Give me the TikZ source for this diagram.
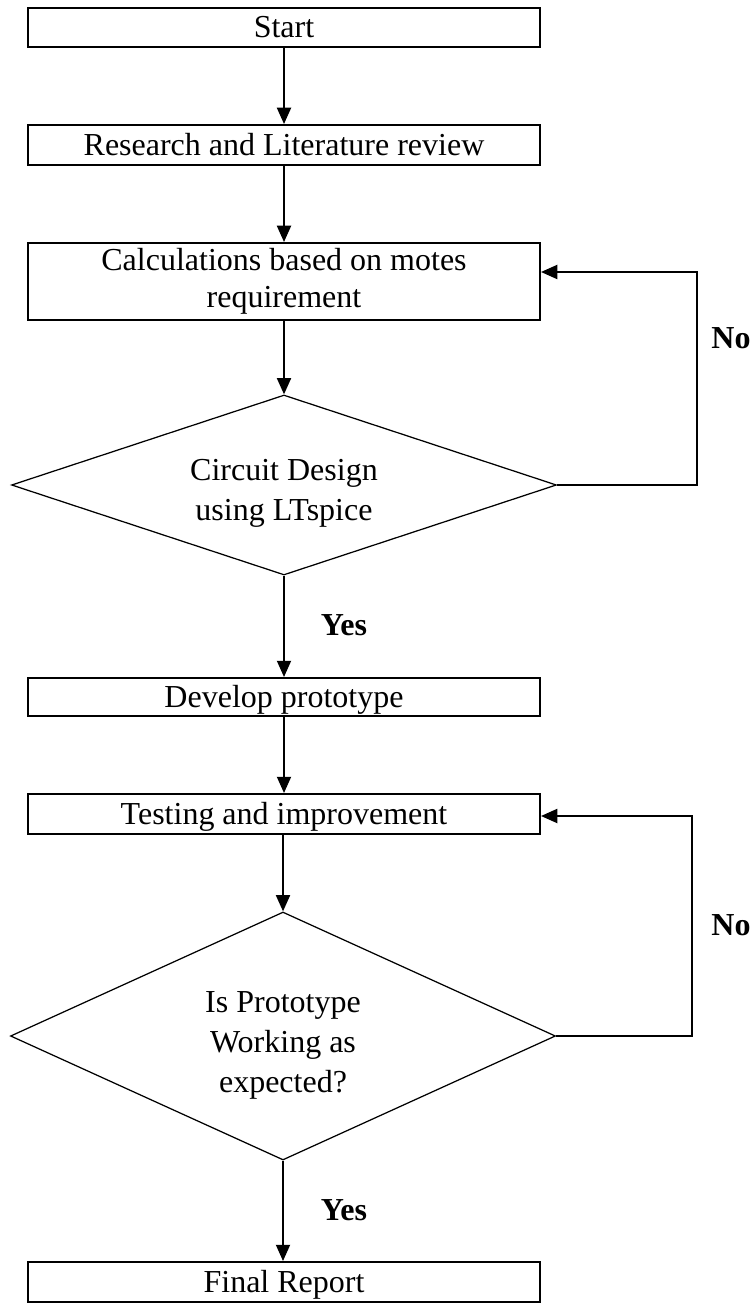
\documentclass[tikz,border=0pt]{standalone}
\usepackage{fontspec}
\setmainfont{Liberation Serif}
\usetikzlibrary{shapes.geometric,arrows.meta}
\begin{document}
\begin{tikzpicture}[x=0.4pt,y=-0.4pt,
  every node/.style={font=\fontsize{12.8pt}{14.8pt}\selectfont},
  stepbox/.style={draw,line width=0.8pt,minimum width=204.8pt,inner sep=0pt,align=center},
  oneline/.style={text height=9pt,text depth=0.6pt},
  decision/.style={draw,diamond,line width=0.5pt,inner sep=0pt,align=center,
    font=\fontsize{12.8pt}{16pt}\selectfont,minimum width=218pt},
  conn/.style={line width=0.75pt,-{Triangle[length=6.5pt,width=5.6pt]}},
  answer/.style={font=\fontsize{12.8pt}{14.8pt}\selectfont\bfseries}]
\useasboundingbox (0,0) rectangle (752,1303);
\node[stepbox,oneline,minimum height=15.6pt] (start) at (284,27.5) {Start};
\node[stepbox,oneline,minimum height=16pt] (research) at (284,145) {Research and Literature review};
\node[stepbox,minimum height=30.8pt] (calc) at (284,281.5) {Calculations based on motes\\requirement};
\node[decision,shape aspect=3,minimum height=72pt] (design) at (284,485) {\rule{0pt}{15.5pt}Circuit Design\\using LTspice};
\node[stepbox,oneline,minimum height=15.2pt] (develop) at (284,697) {Develop prototype};
\node[stepbox,oneline,minimum height=16pt] (testing) at (284,814) {Testing and improvement};
\node[decision,shape aspect=2.2,minimum height=99.2pt] (working) at (283,1036) {\rule{0pt}{16pt}Is Prototype\\Working as\\expected?};
\node[stepbox,oneline,minimum height=16pt] (final) at (284,1282) {Final Report};
\node[answer] (yes1) at (344,625) {Yes};
\node[answer] (yes2) at (344,1210) {Yes};
\node[answer] (no1) at (731,338) {No};
\node[answer] (no2) at (731,925) {No};
\coordinate (loop1) at (697,272);
\coordinate (loop2) at (692,816);
\draw[conn] (start) -- (research);
\draw[conn] (research) -- (calc);
\draw[conn] (calc) -- (design);
\draw[conn] (design) -- (develop);
\draw[conn] (develop) -- (testing);
\draw[conn] (testing.south -| working.north) -- (working);
\draw[conn] (working) -- (final.north -| working.south);
\draw[conn] (design.east) -| (loop1) -- (calc.east |- loop1);
\draw[conn] (working.east) -| (loop2) -- (testing.east |- loop2);
\end{tikzpicture}
\end{document}
